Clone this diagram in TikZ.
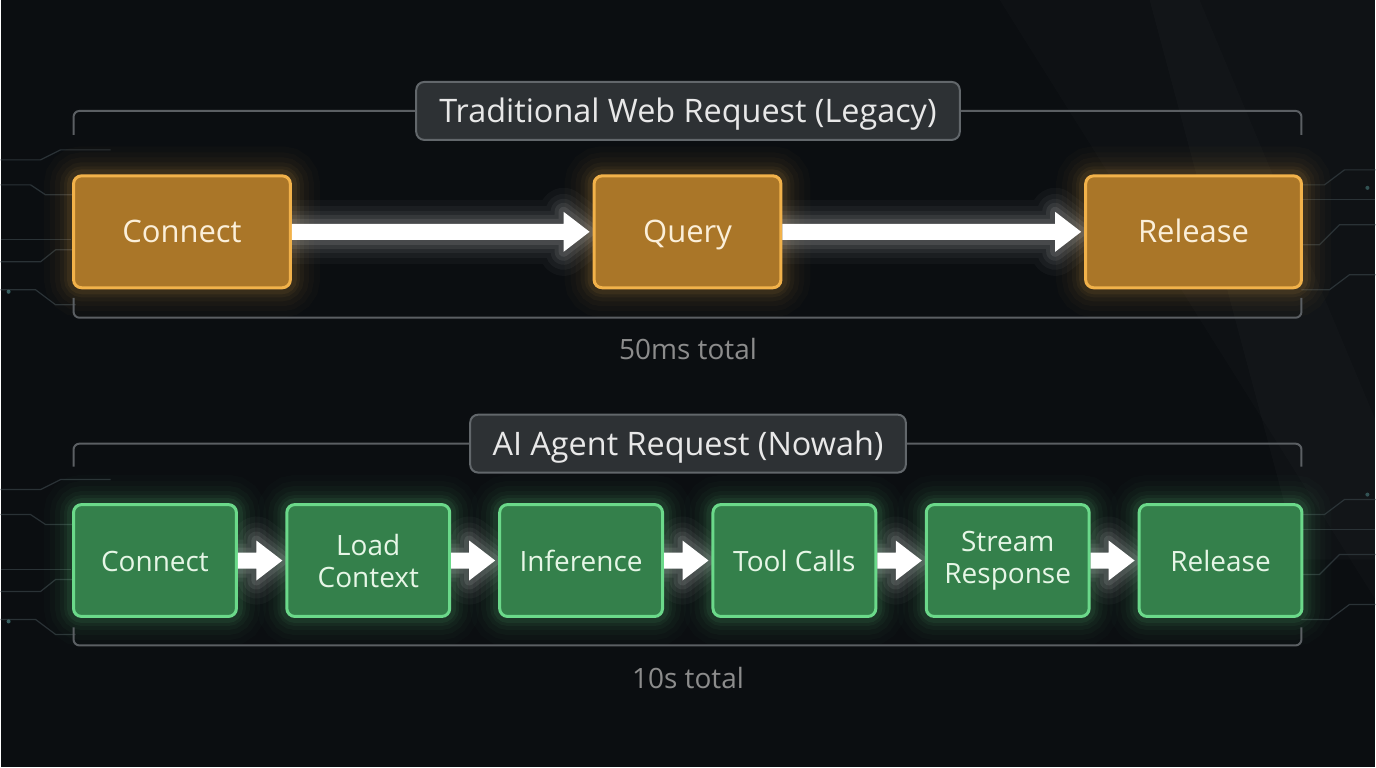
\documentclass[tikz,border=0pt]{standalone}
\usepackage{fontspec}
\setmainfont{Open Sans}
\usetikzlibrary{calc}
\definecolor{bgc}{HTML}{0B0E11}
\definecolor{ofill}{HTML}{AA7628}
\definecolor{oline}{HTML}{F2B24A}
\definecolor{otext}{HTML}{FBEFD9}
\definecolor{gfill}{HTML}{34804B}
\definecolor{gline}{HTML}{6BD98A}
\definecolor{gtext}{HTML}{E6F6E6}
\definecolor{tfill}{HTML}{2D3134}
\definecolor{tline}{HTML}{62676B}
\definecolor{ttext}{HTML}{E8E8E8}
\definecolor{brk}{HTML}{5B5F63}
\definecolor{capc}{HTML}{8C8C8C}
\definecolor{circ}{HTML}{2A3236}
\pgfdeclarelayer{back}
\pgfdeclarelayer{glow}
\pgfsetlayers{back,glow,main}
\newcommand\fatarrow[2]{%
  \begin{pgfonlayer}{glow}
  \foreach \w/\o in {24/0.03,18/0.04,13/0.05,9/0.07,5/0.09}{
    \draw[white,line width=\w pt,opacity=\o,line join=round]
      ($(#1.east)+(0,-8)$) -- ($(#2.west)+(-29,-8)$) -- ($(#2.west)+(-29,-20)$) -- ($(#2.west)+(-3,0)$) -- ($(#2.west)+(-29,20)$) -- ($(#2.west)+(-29,8)$) -- ($(#1.east)+(0,8)$) -- cycle;}
  \end{pgfonlayer}
  \fill[white] ($(#1.east)+(0,-8)$) -- ($(#2.west)+(-29,-8)$) -- ($(#2.west)+(-29,-20)$) -- ($(#2.west)+(-3,0)$) -- ($(#2.west)+(-29,20)$) -- ($(#2.west)+(-29,8)$) -- ($(#1.east)+(0,8)$) -- cycle;}
\newcommand\glowbox[2]{%
  \begin{pgfonlayer}{glow}
  \foreach \w/\o in {28/0.02,22/0.025,17/0.03,12/0.04,8/0.05,5/0.07}{
    \draw[#2,line width=\w pt,opacity=\o,rounded corners=5pt] (#1.south west) rectangle (#1.north east);}
  \end{pgfonlayer}}
\begin{document}
\begin{tikzpicture}[x=0.5pt,y=-0.5pt,
  one/.style={text height=11pt,text depth=0pt},
  obox/.style={draw=oline,fill=ofill,line width=1.5pt,rounded corners=4pt,minimum height=56pt,text=otext,font=\fontsize{15.5}{18}\selectfont,inner sep=0pt,one},
  gbox/.style={draw=gline,fill=gfill,line width=1.5pt,rounded corners=4pt,minimum width=81.5pt,minimum height=56pt,text=gtext,align=center,font=\fontsize{14}{16}\selectfont,inner sep=0pt},
  tbox/.style={draw=tline,fill=tfill,line width=1pt,rounded corners=4pt,minimum height=29pt,text=ttext,font=\fontsize{16.2}{18}\selectfont,inner sep=0pt,text height=11.5pt,text depth=0pt},
  bracket/.style={draw=brk,line width=1pt,rounded corners=3pt},
  caption/.style={text=capc,font=\fontsize{14}{16}\selectfont},
  circuit/.style={draw=circ,line width=0.6pt}]
\begin{pgfonlayer}{back}
\fill[bgc] (0,0) rectangle (1376,768);
\fill[white,opacity=0.02] (1150,0) -- (1376,0) -- (1376,560) -- (1300,560) -- cycle;
\fill[white,opacity=0.015] (1000,0) -- (1200,0) -- (1376,420) -- (1376,600) -- cycle;
% circuit traces left
\draw[circuit] (0,160) -- (40,160) -- (60,150) -- (110,150);
\draw[circuit] (0,185) -- (30,185) -- (45,195) -- (75,195);
\draw[circuit] (0,240) -- (70,240);
\draw[circuit] (0,262) -- (40,262) -- (55,250) -- (75,250);
\draw[circuit] (0,290) -- (35,290) -- (55,305) -- (75,305);
\draw[circuit] (0,490) -- (40,490) -- (60,480) -- (110,480);
\draw[circuit] (0,515) -- (30,515) -- (45,525) -- (75,525);
\draw[circuit] (0,570) -- (70,570);
\draw[circuit] (0,592) -- (40,592) -- (55,580) -- (75,580);
\draw[circuit] (0,620) -- (35,620) -- (55,635) -- (75,635);
% circuit traces right
\draw[circuit] (1376,170) -- (1345,170) -- (1325,185) -- (1302,185);
\draw[circuit] (1376,200) -- (1302,200);
\draw[circuit] (1376,225) -- (1340,225) -- (1320,245) -- (1302,245);
\draw[circuit] (1376,275) -- (1350,275) -- (1330,290) -- (1302,290);
\draw[circuit] (1376,500) -- (1345,500) -- (1325,515) -- (1302,515);
\draw[circuit] (1376,530) -- (1302,530);
\draw[circuit] (1376,555) -- (1340,555) -- (1320,575) -- (1302,575);
\draw[circuit] (1376,605) -- (1350,605) -- (1330,620) -- (1302,620);
\fill[teal!60,opacity=0.5] (8,292) circle (2);
\fill[teal!60,opacity=0.5] (8,622) circle (2);
\fill[teal!60,opacity=0.4] (1368,188) circle (2);
\fill[teal!60,opacity=0.4] (1368,495) circle (2);
\end{pgfonlayer}
\useasboundingbox (0,0) rectangle (1376,768);

% ---------- Legacy ----------
\node[tbox,minimum width=272pt] (t1) at (688,111) {Traditional Web Request (Legacy)};
\draw[bracket] (73,135) -- (73,111) -- (t1.west);
\draw[bracket] (t1.east) -- (1302,111) -- (1302,135);
\draw[bracket] (73,298) -- (73,318) -- (1302,318) -- (1302,298);

\node[obox,minimum width=108.5pt] (c1) at (181.5,232) {Connect};
\node[obox,minimum width=93.5pt] (q1) at (687.5,232) {Query};
\node[obox,minimum width=108pt] (r1) at (1194,232) {Release};
\glowbox{c1}{oline}\glowbox{q1}{oline}\glowbox{r1}{oline}
\fatarrow{c1}{q1}
\fatarrow{q1}{r1}
\node[caption] (cap1) at (688,349) {50ms total};

% ---------- Agent ----------
\node[tbox,minimum width=218pt] (t2) at (688,444) {AI Agent Request (Nowah)};
\draw[bracket] (73,467) -- (73,444) -- (t2.west);
\draw[bracket] (t2.east) -- (1302,444) -- (1302,467);
\draw[bracket] (73,628) -- (73,646) -- (1302,646) -- (1302,628);

\node[gbox,one] (g1) at (154.5,561) {Connect};
\node[gbox] (g2) at (368,561) {Load\\Context};
\node[gbox,one] (g3) at (581,561) {Inference};
\node[gbox,one] (g4) at (794.5,561) {Tool Calls};
\node[gbox] (g5) at (1008,561) {Stream\\Response};
\node[gbox,one] (g6) at (1221,561) {Release};
\foreach \n in {g1,g2,g3,g4,g5,g6}{\glowbox{\n}{gline}}
\fatarrow{g1}{g2}
\fatarrow{g2}{g3}
\fatarrow{g3}{g4}
\fatarrow{g4}{g5}
\fatarrow{g5}{g6}
\node[caption] (cap2) at (688,679) {10s total};
\end{tikzpicture}
\end{document}
